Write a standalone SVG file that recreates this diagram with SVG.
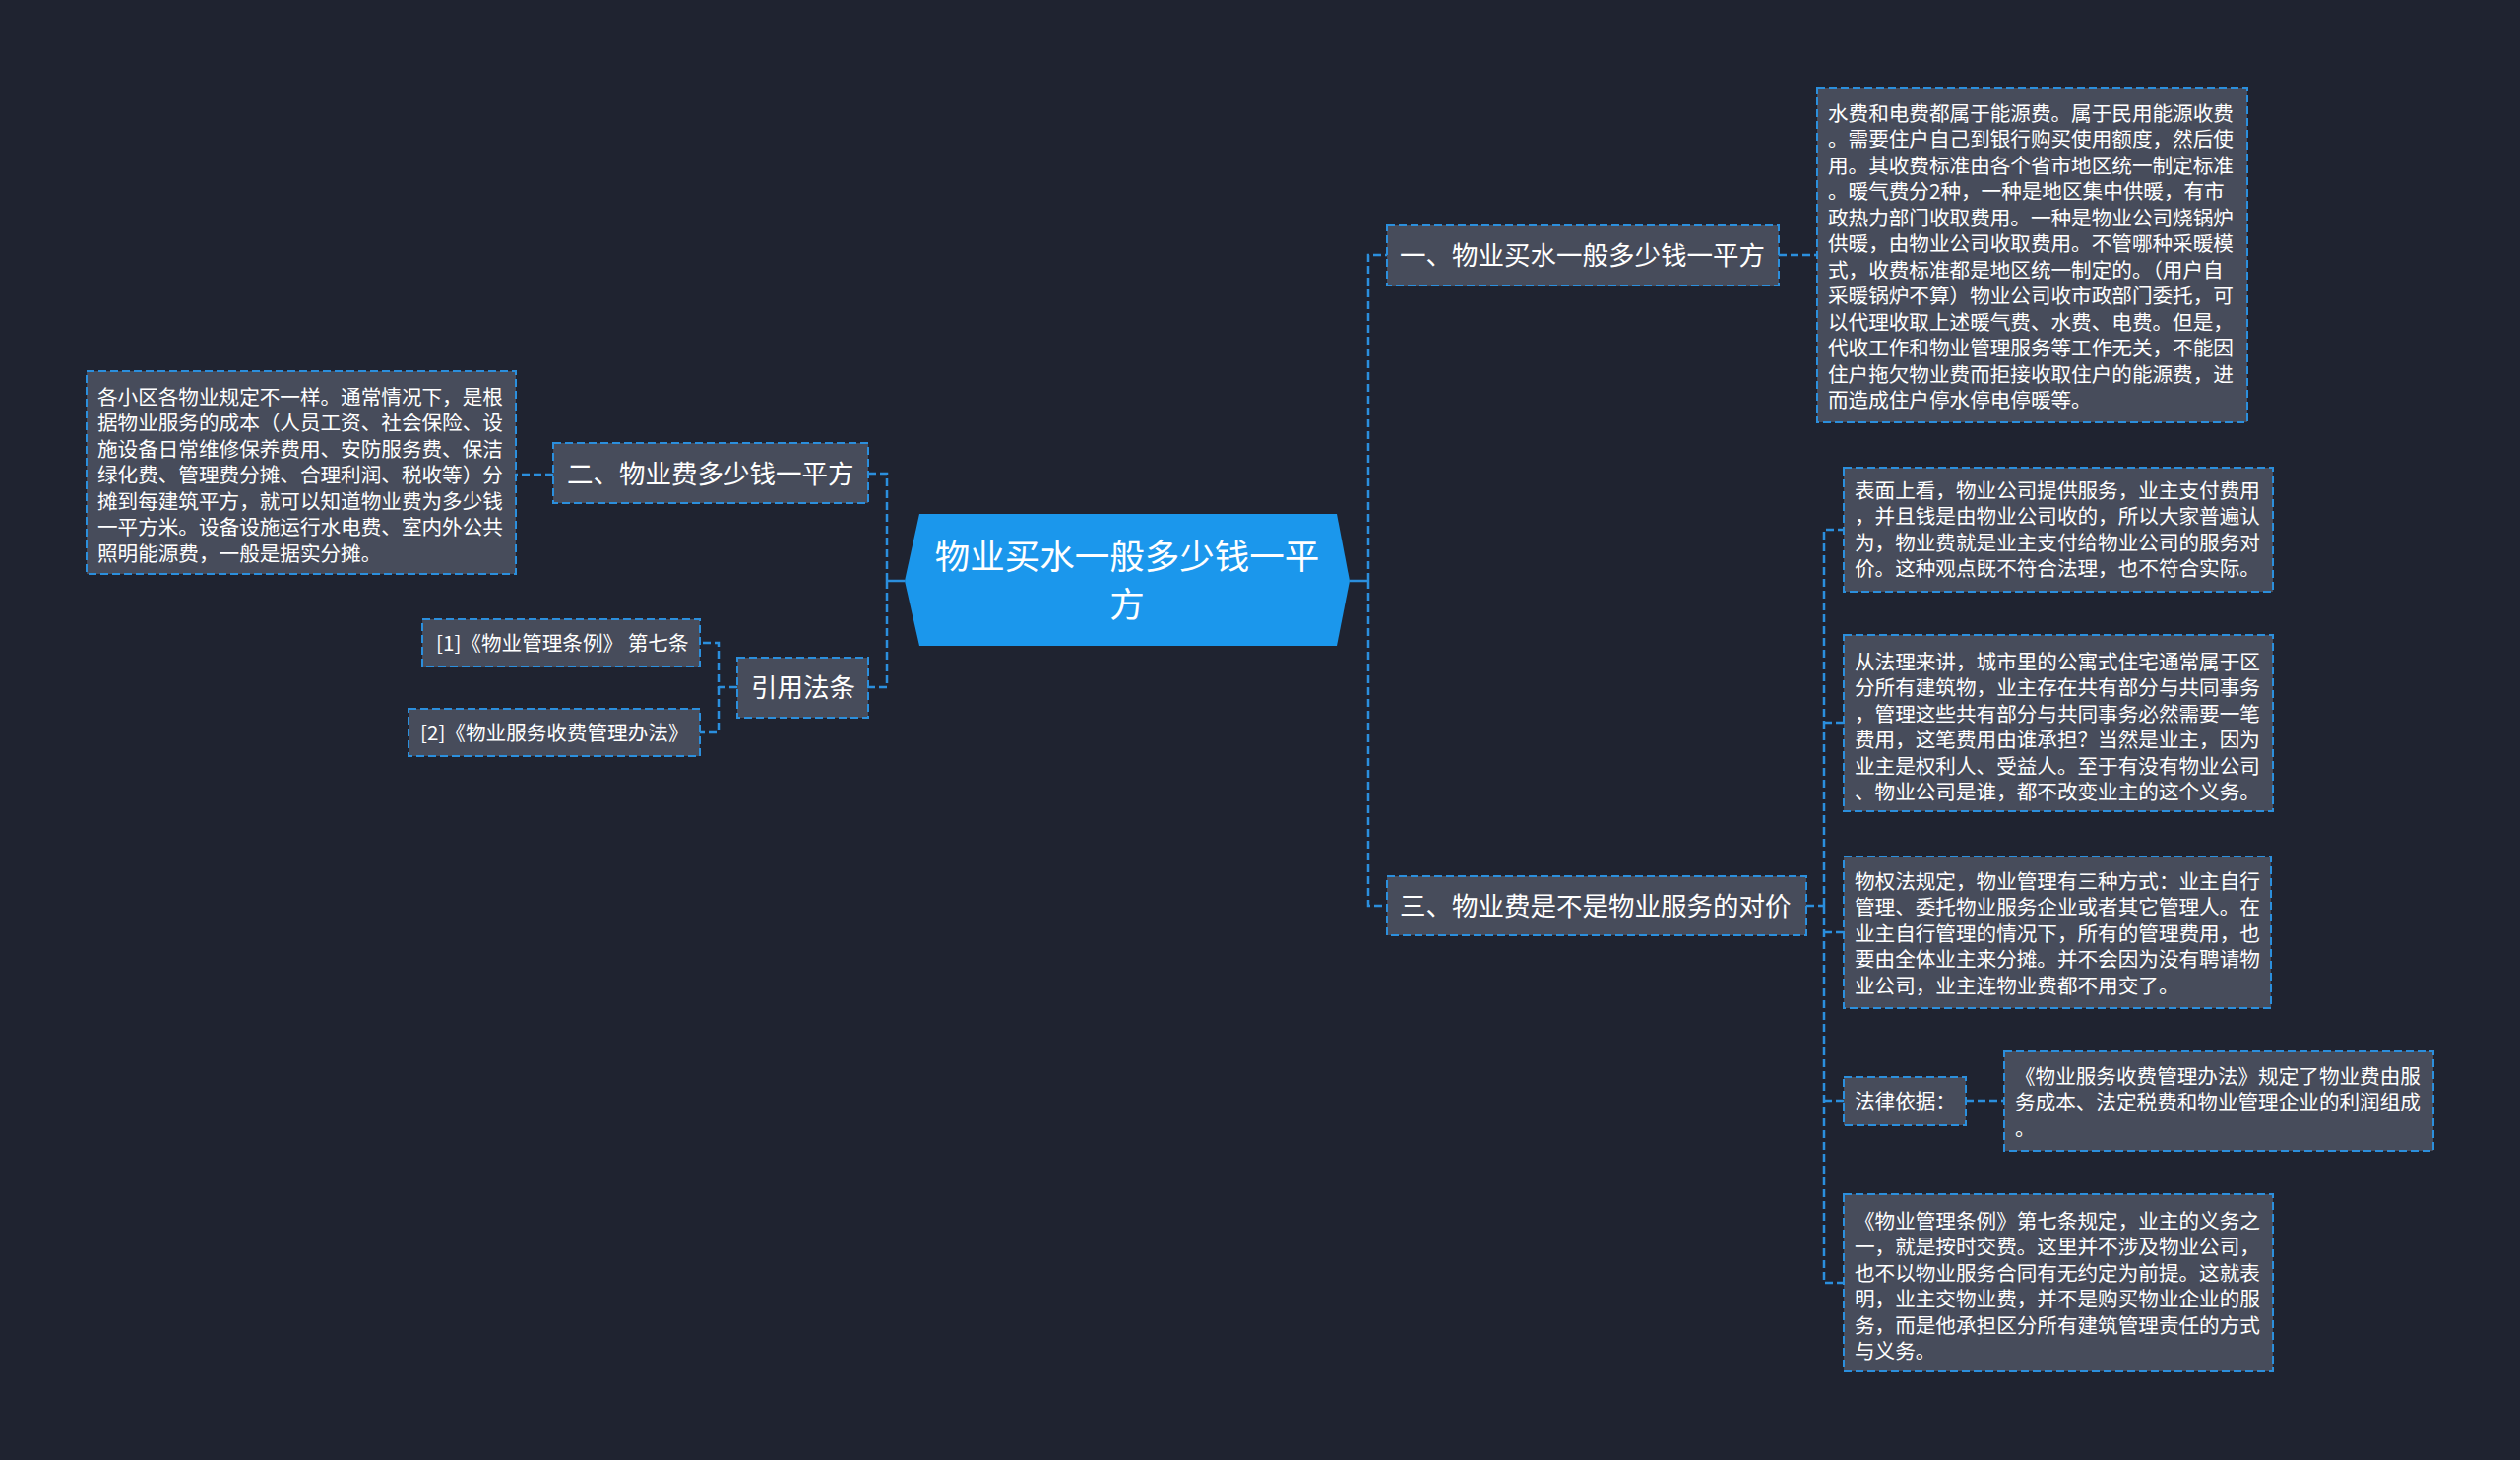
<svg xmlns="http://www.w3.org/2000/svg" width="2560" height="1483" viewBox="0 0 2560 1483">
<style>
.bg{fill:#1f2330}
.box{fill:#474c5b;stroke:#2b8fdd;stroke-width:2;stroke-dasharray:8 4}
.ln{fill:none;stroke:#2b8fdd;stroke-width:2.5;stroke-dasharray:8 4}
.sol{fill:none;stroke:#2b8fdd;stroke-width:2.5}
.t{font-family:"Noto Sans CJK SC","Noto Sans",sans-serif;fill:#ffffff}
.s{font-size:20.6px}
.m{font-size:26.5px}
.c{font-size:35.5px}
</style>
<rect class="bg" x="0" y="0" width="2560" height="1483"/>
<g id="connectors">
<path class="sol" d="M919 590 H901"/>
<path class="ln" d="M901 590 V481 H882"/>
<path class="ln" d="M901 590 V698 H882"/>
<path class="ln" d="M562 482 H524"/>
<path class="ln" d="M749 698 H730 V653 H711"/>
<path class="ln" d="M730 698 V744 H711"/>
<path class="sol" d="M1371 590 H1390"/>
<path class="ln" d="M1390 590 V259 H1409"/>
<path class="ln" d="M1390 590 V920 H1409"/>
<path class="ln" d="M1807 259 H1846"/>
<path class="ln" d="M1835 920 H1853"/>
<path class="ln" d="M1853 920 V538 H1873"/>
<path class="ln" d="M1853 734 H1873"/>
<path class="ln" d="M1853 920 V1303 H1873"/>
<path class="ln" d="M1853 947 H1873"/>
<path class="ln" d="M1853 1118 H1873"/>
<path class="ln" d="M1997 1118 H2036"/>
</g>
<g id="root">
<polygon points="934,522 1358,522 1371,590 1358,656 934,656 919,590" fill="#1b97ec"/>
<text class="t c" x="1145" y="578" text-anchor="middle">物业买水一般多少钱一平</text>
<text class="t c" x="1145" y="627" text-anchor="middle">方</text>
</g>
<g id="n1">
<rect class="box" x="1409" y="229" width="398" height="61"/>
<text class="t m" x="1422" y="269">一、物业买水一般多少钱一平方</text>
</g>
<g id="n1d">
<rect class="box" x="1846" y="89" width="437" height="340"/>
<text class="t s" x="1857">
<tspan x="1857" y="122.5">水费和电费都属于能源费。属于民用能源收费</tspan>
<tspan x="1857" y="149">。需要住户自己到银行购买使用额度，然后使</tspan>
<tspan x="1857" y="175.5">用。其收费标准由各个省市地区统一制定标准</tspan>
<tspan x="1857" y="202">。暖气费分2种，一种是地区集中供暖，有市</tspan>
<tspan x="1857" y="228.5">政热力部门收取费用。一种是物业公司烧锅炉</tspan>
<tspan x="1857" y="255">供暖，由物业公司收取费用。不管哪种采暖模</tspan>
<tspan x="1857" y="281.5">式，收费标准都是地区统一制定的。（用户自</tspan>
<tspan x="1857" y="308">采暖锅炉不算）物业公司收市政部门委托，可</tspan>
<tspan x="1857" y="334.5">以代理收取上述暖气费、水费、电费。但是，</tspan>
<tspan x="1857" y="361">代收工作和物业管理服务等工作无关，不能因</tspan>
<tspan x="1857" y="387.5">住户拖欠物业费而拒接收取住户的能源费，进</tspan>
<tspan x="1857" y="414">而造成住户停水停电停暖等。</tspan>
</text>
</g>
<g id="n2">
<rect class="box" x="562" y="450" width="320" height="61"/>
<text class="t m" x="576" y="491">二、物业费多少钱一平方</text>
</g>
<g id="n2d">
<rect class="box" x="88" y="377" width="436" height="206"/>
<text class="t s">
<tspan x="99" y="410.5">各小区各物业规定不一样。通常情况下，是根</tspan>
<tspan x="99" y="437">据物业服务的成本（人员工资、社会保险、设</tspan>
<tspan x="99" y="463.5">施设备日常维修保养费用、安防服务费、保洁</tspan>
<tspan x="99" y="490">绿化费、管理费分摊、合理利润、税收等）分</tspan>
<tspan x="99" y="516.5">摊到每建筑平方，就可以知道物业费为多少钱</tspan>
<tspan x="99" y="543">一平方米。设备设施运行水电费、室内外公共</tspan>
<tspan x="99" y="569.5">照明能源费，一般是据实分摊。</tspan>
</text>
</g>
<g id="n4">
<rect class="box" x="749" y="668" width="133" height="61"/>
<text class="t m" x="763" y="708">引用法条</text>
</g>
<g id="r1">
<rect class="box" x="429" y="629" width="282" height="48"/>
<text class="t s" x="443" y="660.5">[1]《物业管理条例》 第七条</text>
</g>
<g id="r2">
<rect class="box" x="415" y="720" width="296" height="48"/>
<text class="t s" x="427" y="751.5">[2]《物业服务收费管理办法》</text>
</g>
<g id="n3">
<rect class="box" x="1409" y="890" width="426" height="60"/>
<text class="t m" x="1422" y="930">三、物业费是不是物业服务的对价</text>
</g>
<g id="n3a">
<rect class="box" x="1873" y="475" width="436" height="126"/>
<text class="t s">
<tspan x="1884" y="505.5">表面上看，物业公司提供服务，业主支付费用</tspan>
<tspan x="1884" y="532">，并且钱是由物业公司收的，所以大家普遍认</tspan>
<tspan x="1884" y="558.5">为，物业费就是业主支付给物业公司的服务对</tspan>
<tspan x="1884" y="585">价。这种观点既不符合法理，也不符合实际。</tspan>
</text>
</g>
<g id="n3b">
<rect class="box" x="1873" y="645" width="436" height="179"/>
<text class="t s">
<tspan x="1884" y="679.5">从法理来讲，城市里的公寓式住宅通常属于区</tspan>
<tspan x="1884" y="706">分所有建筑物，业主存在共有部分与共同事务</tspan>
<tspan x="1884" y="732.5">，管理这些共有部分与共同事务必然需要一笔</tspan>
<tspan x="1884" y="759">费用，这笔费用由谁承担？当然是业主，因为</tspan>
<tspan x="1884" y="785.5">业主是权利人、受益人。至于有没有物业公司</tspan>
<tspan x="1884" y="812">、物业公司是谁，都不改变业主的这个义务。</tspan>
</text>
</g>
<g id="n3c">
<rect class="box" x="1873" y="870" width="434" height="154"/>
<text class="t s">
<tspan x="1884" y="902.5">物权法规定，物业管理有三种方式：业主自行</tspan>
<tspan x="1884" y="929">管理、委托物业服务企业或者其它管理人。在</tspan>
<tspan x="1884" y="955.5">业主自行管理的情况下，所有的管理费用，也</tspan>
<tspan x="1884" y="982">要由全体业主来分摊。并不会因为没有聘请物</tspan>
<tspan x="1884" y="1008.5">业公司，业主连物业费都不用交了。</tspan>
</text>
</g>
<g id="n3d">
<rect class="box" x="1873" y="1094" width="124" height="49"/>
<text class="t s" x="1884" y="1125.5">法律依据：</text>
</g>
<g id="n3d1">
<rect class="box" x="2036" y="1068" width="436" height="101"/>
<text class="t s">
<tspan x="2047" y="1100.5">《物业服务收费管理办法》规定了物业费由服</tspan>
<tspan x="2047" y="1127">务成本、法定税费和物业管理企业的利润组成</tspan>
<tspan x="2047" y="1153.5">。</tspan>
</text>
</g>
<g id="n3e">
<rect class="box" x="1873" y="1213" width="436" height="180"/>
<text class="t s">
<tspan x="1884" y="1247.5">《物业管理条例》第七条规定，业主的义务之</tspan>
<tspan x="1884" y="1274">一，就是按时交费。这里并不涉及物业公司，</tspan>
<tspan x="1884" y="1300.5">也不以物业服务合同有无约定为前提。这就表</tspan>
<tspan x="1884" y="1327">明，业主交物业费，并不是购买物业企业的服</tspan>
<tspan x="1884" y="1353.5">务，而是他承担区分所有建筑管理责任的方式</tspan>
<tspan x="1884" y="1380">与义务。</tspan>
</text>
</g>
</svg>
